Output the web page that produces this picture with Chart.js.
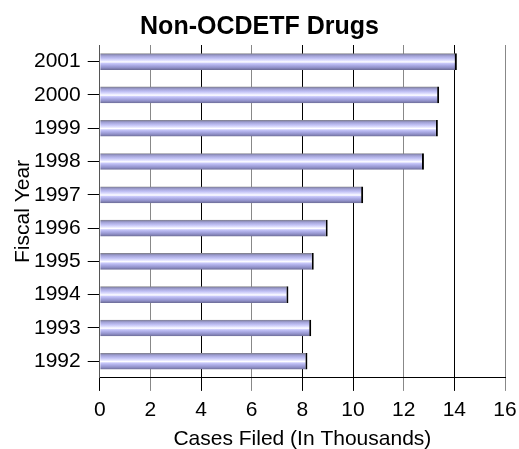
<!DOCTYPE html>
<html>
<head>
<meta charset="utf-8">
<script src="https://cdn.jsdelivr.net/npm/chart.js@4/dist/chart.umd.min.js"></script>
<style>
  body { margin: 0; background: #fff; }
  canvas { display: block; }
</style>
</head>
<body>
<canvas id="drugs" width="519" height="449"></canvas>
<script>
// data
const fiscalYears = ['2001', '2000', '1999', '1998', '1997', '1996', '1995', '1994', '1993', '1992'];
const casesFiled = [14.1, 13.4, 13.35, 12.8, 10.4, 9.0, 8.45, 7.45, 8.35, 8.2];
const xTicks = [0, 2, 4, 6, 8, 10, 12, 14, 16];

// grid lines in the original are a mix of black and grey
const gridColors = ['#000', '#888', '#000', '#888', '#000', '#000', '#888', '#000', '#888'];

const BAR_PCT = 0.5;

// Start of barGradient - horizontal stripes like the original
function barGradient(context) {
  const chart = context.chart;
  const yScale = chart.scales.y;
  if (!chart.chartArea || !yScale) return '#b0b0e8';
  const center = yScale.getPixelForValue(context.dataIndex);
  const half = (yScale.height / fiscalYears.length) * BAR_PCT / 2;
  const g = chart.ctx.createLinearGradient(0, center - half, 0, center + half);
  g.addColorStop(0.00, '#808080');
  g.addColorStop(0.08, '#8c8cb8');
  g.addColorStop(0.16, '#a4a4d8');
  g.addColorStop(0.30, '#c0c0f4');
  g.addColorStop(0.44, '#e4e4ff');
  g.addColorStop(0.52, '#ffffff');
  g.addColorStop(0.60, '#c8c8fa');
  g.addColorStop(0.72, '#acace6');
  g.addColorStop(0.86, '#9090c8');
  g.addColorStop(1.00, '#6a6a94');
  return g;
}
// End of barGradient

Chart.defaults.font.family = '"Liberation Sans", Arial, sans-serif';
Chart.defaults.color = '#000';

const ctx = document.getElementById('drugs').getContext('2d');
new Chart(ctx, {
  type: 'bar',
  data: {
    labels: fiscalYears,
    datasets: [{
      label: 'Cases Filed',
      data: casesFiled,
      backgroundColor: barGradient,
      borderColor: '#000',
      borderWidth: { top: 0, right: 2, bottom: 0, left: 0 },
      borderSkipped: false,
      barPercentage: BAR_PCT,
      categoryPercentage: 1,
    }],
  },
  options: {
    indexAxis: 'y',
    responsive: false,
    animation: false,
    layout: { padding: 0 },
    plugins: {
      legend: { display: false },
      tooltip: { enabled: false },
      title: {
        display: true,
        text: 'Non-OCDETF Drugs',
        font: { size: 25, weight: 'bold' },
        padding: { top: 12, bottom: 3 },
      },
    },
    scales: {
      x: {
        min: 0,
        max: 16,
        afterBuildTicks: axis => { axis.ticks = xTicks.map(v => ({ value: v })); },
        // keep the right edge of the plot where the original has it
        afterFit: axis => { axis.paddingRight = 14; },
        ticks: { font: { size: 21 }, padding: 7 },
        grid: {
          color: c => gridColors[c.index] || '#000',
          lineWidth: 1,
          drawTicks: true,
          tickLength: 13,
        },
        border: { display: true, color: '#000', width: 1 },
        title: {
          display: true,
          text: 'Cases Filed (In Thousands)',
          font: { size: 21, lineHeight: 0.9 },
          padding: { top: 0, bottom: 0 },
        },
      },
      y: {
        ticks: { font: { size: 21 }, padding: 7 },
        grid: {
          offset: false,
          drawOnChartArea: false,
          drawTicks: true,
          tickLength: 12,
          color: '#000',
        },
        border: { display: true, color: '#555', width: 1 },
        title: {
          display: true,
          text: 'Fiscal Year',
          font: { size: 21, lineHeight: 1 },
          padding: { top: 13, bottom: -7 },
        },
      },
    },
  },
});
</script>
</body>
</html>
